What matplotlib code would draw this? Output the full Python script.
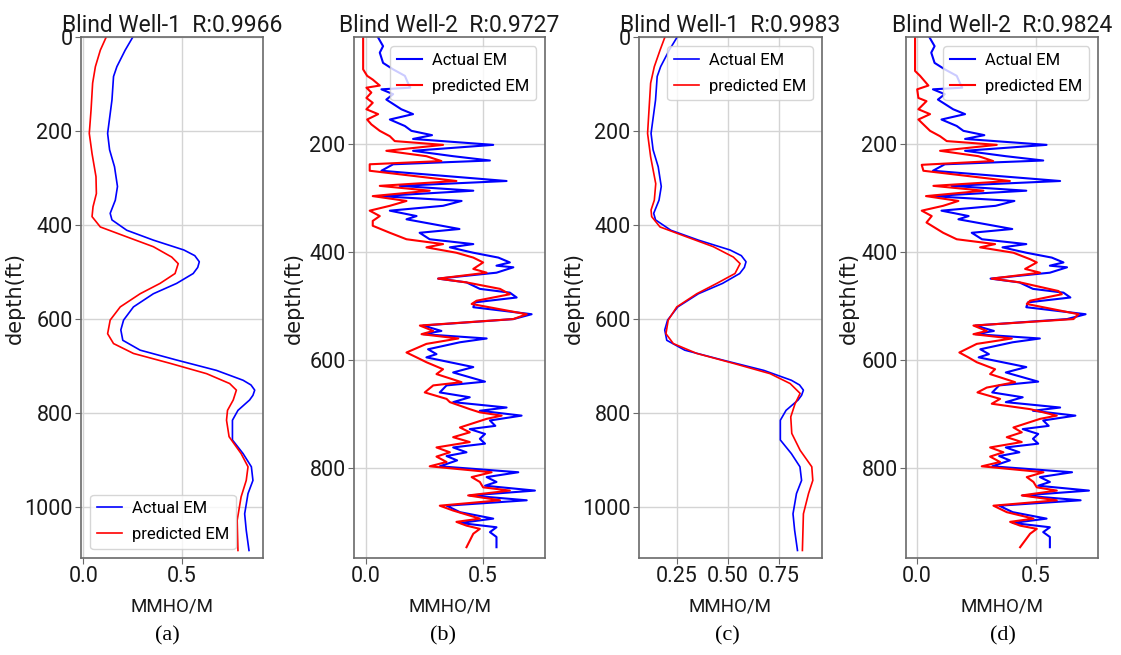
import numpy as np
import matplotlib
matplotlib.use('Agg')
import matplotlib.pyplot as plt

# Blind Well-1: actual EM log (depth ft, MMHO/M)
w1_depth = [0, 28, 63, 84, 134, 205, 240, 276, 318, 347, 375, 389, 411, 432, 453, 465, 478, 490, 503,
            524, 546, 574, 602, 623, 645, 666, 687, 709, 730, 740, 751, 762, 772, 794, 815, 857, 886,
            914, 943, 971, 1014, 1049, 1092]
w1_actual = [0.251, 0.212, 0.170, 0.153, 0.145, 0.123, 0.133, 0.158, 0.173, 0.162, 0.136, 0.145, 0.22,
             0.355, 0.51, 0.565, 0.588, 0.58, 0.557, 0.473, 0.355, 0.254, 0.204, 0.19, 0.2, 0.288, 0.473,
             0.675, 0.81, 0.85, 0.869, 0.86, 0.843, 0.784, 0.756, 0.756, 0.81, 0.852, 0.86, 0.835, 0.818,
             0.826, 0.84]

# Blind Well-1: predicted EM, model (a)
w1a_depth = [0, 28, 63, 98, 155, 205, 248, 297, 333, 361, 382, 404, 425, 446, 468, 482, 503, 524, 546,
             574, 602, 631, 652, 673, 694, 716, 737, 751, 772, 794, 815, 850, 886, 914, 943, 978, 1028, 1092]
w1a_pred = [0.116, 0.086, 0.061, 0.047, 0.039, 0.030, 0.044, 0.064, 0.066, 0.049, 0.044, 0.086, 0.22,
            0.355, 0.448, 0.481, 0.465, 0.389, 0.288, 0.187, 0.136, 0.123, 0.153, 0.254, 0.44, 0.625,
            0.742, 0.776, 0.76, 0.731, 0.726, 0.739, 0.80, 0.835, 0.826, 0.80, 0.78, 0.784]

# Blind Well-1: predicted EM, model (c)
w1c_depth = [0, 28, 63, 98, 155, 205, 255, 312, 347, 368, 382, 404, 425, 446, 468, 482, 503, 524, 546,
             574, 602, 631, 652, 673, 694, 716, 737, 758, 780, 808, 843, 879, 914, 943, 971, 1014, 1092]
w1c_pred = [0.191, 0.167, 0.139, 0.121, 0.113, 0.106, 0.121, 0.146, 0.139, 0.123, 0.126, 0.167, 0.297,
            0.428, 0.526, 0.559, 0.534, 0.445, 0.347, 0.249, 0.207, 0.196, 0.232, 0.347, 0.526, 0.706,
            0.804, 0.853, 0.828, 0.807, 0.812, 0.853, 0.91, 0.915, 0.894, 0.869, 0.864]

# Blind Well-2: actual EM (depth, value)
w2_actual = np.array([
    (2, 0.053), (18, 0.074), (30, 0.06), (49, 0.074), (61, 0.117), (73, 0.167), (86, 0.18), (95, 0.19),
    (98, 0.067), (107, 0.117), (117, 0.088), (135, 0.152), (144, 0.202), (154, 0.103), (166, 0.167),
    (175, 0.195), (183, 0.283), (190, 0.202), (201, 0.544), (212, 0.202), (222, 0.373), (230, 0.53),
    (237, 0.117), (249, 0.067), (268, 0.601), (277, 0.145), (286, 0.459), (296, 0.06), (305, 0.409),
    (314, 0.33), (323, 0.103), (333, 0.217), (339, 0.174), (357, 0.40), (364, 0.23), (376, 0.273),
    (385, 0.459), (391, 0.359), (401, 0.459), (410, 0.566), (419, 0.615), (425, 0.558), (428, 0.63),
    (438, 0.558), (449, 0.309), (456, 0.43), (468, 0.487), (475, 0.615), (484, 0.644), (493, 0.466),
    (502, 0.459), (515, 0.708), (524, 0.63), (536, 0.245), (546, 0.323), (552, 0.245), (560, 0.516),
    (567, 0.402), (580, 0.266), (589, 0.302), (595, 0.259), (613, 0.459), (623, 0.373), (640, 0.509),
    (647, 0.345), (660, 0.316), (669, 0.444), (678, 0.373), (688, 0.601), (694, 0.487), (703, 0.665),
    (712, 0.53), (722, 0.553), (728, 0.444), (737, 0.509), (746, 0.487), (755, 0.509), (762, 0.373),
    (771, 0.43), (778, 0.345), (786, 0.39), (797, 0.316), (808, 0.651), (817, 0.516), (826, 0.558),
    (833, 0.509), (842, 0.722), (851, 0.444), (860, 0.687), (870, 0.345), (882, 0.402), (894, 0.544),
    (902, 0.402), (910, 0.558), (919, 0.53), (928, 0.558), (947, 0.558)])

# Blind Well-2: predicted EM, model (b)
w2b_pred = np.array([
    (3, -0.011), (61, -0.011), (73, 0.006), (80, 0.03), (91, 0.06), (95, 0.003), (104, 0.024),
    (114, 0.003), (123, 0.03), (135, 0.003), (144, 0.053), (154, 0.006), (163, 0.024), (175, 0.06),
    (185, 0.103), (194, 0.124), (201, 0.33), (212, 0.088), (222, 0.259), (231, 0.323), (237, 0.017),
    (249, 0.017), (268, 0.387), (277, 0.06), (286, 0.273), (296, 0.03), (305, 0.174), (314, 0.103),
    (323, 0.017), (333, 0.06), (342, 0.03), (351, 0.03), (364, 0.103), (376, 0.174), (385, 0.33),
    (391, 0.259), (401, 0.387), (410, 0.459), (419, 0.501), (431, 0.459), (438, 0.516), (449, 0.309),
    (456, 0.43), (468, 0.573), (478, 0.615), (490, 0.473), (496, 0.452), (515, 0.687), (524, 0.63),
    (536, 0.231), (546, 0.288), (552, 0.238), (560, 0.395), (570, 0.259), (586, 0.174), (595, 0.217),
    (604, 0.259), (617, 0.33), (626, 0.302), (641, 0.409), (647, 0.288), (660, 0.252), (672, 0.345),
    (678, 0.359), (691, 0.444), (697, 0.487), (703, 0.58), (709, 0.516), (725, 0.402), (734, 0.444),
    (743, 0.373), (752, 0.444), (762, 0.302), (771, 0.359), (779, 0.302), (789, 0.345), (797, 0.273),
    (808, 0.537), (817, 0.452), (826, 0.487), (836, 0.501), (842, 0.615), (851, 0.437), (860, 0.573),
    (870, 0.316), (879, 0.373), (894, 0.487), (900, 0.387), (907, 0.43), (913, 0.487), (922, 0.459),
    (947, 0.43)])

# Blind Well-2: predicted EM, model (d)
w2d_pred = np.array([
    (3, -0.008), (64, -0.008), (73, 0.013), (91, 0.048), (98, 0.001), (114, 0.006), (120, 0.04),
    (135, 0.006), (144, 0.055), (154, 0.006), (175, 0.055), (185, 0.097), (194, 0.125), (201, 0.335),
    (212, 0.097), (222, 0.258), (231, 0.32), (238, 0.02), (249, 0.027), (268, 0.39), (277, 0.069),
    (286, 0.279), (296, 0.038), (305, 0.174), (314, 0.11), (323, 0.02), (333, 0.062), (345, 0.04),
    (364, 0.11), (376, 0.167), (385, 0.328), (391, 0.265), (401, 0.405), (413, 0.475), (419, 0.503),
    (431, 0.454), (438, 0.517), (449, 0.314), (456, 0.433), (472, 0.594), (478, 0.608), (490, 0.475),
    (496, 0.461), (515, 0.678), (524, 0.657), (536, 0.237), (546, 0.293), (552, 0.237), (560, 0.398),
    (570, 0.251), (586, 0.178), (595, 0.216), (604, 0.251), (617, 0.328), (626, 0.307), (641, 0.412),
    (651, 0.293), (660, 0.254), (672, 0.349), (681, 0.314), (691, 0.475), (703, 0.587), (709, 0.517),
    (725, 0.405), (734, 0.44), (743, 0.377), (752, 0.44), (762, 0.307), (771, 0.363), (779, 0.307),
    (789, 0.349), (797, 0.272), (808, 0.531), (817, 0.461), (826, 0.489), (836, 0.503), (842, 0.587),
    (851, 0.44), (860, 0.587), (870, 0.321), (882, 0.377), (894, 0.489), (900, 0.391), (907, 0.433),
    (913, 0.503), (922, 0.475), (947, 0.433)])

titles = ['Blind Well-1  R:0.9966', 'Blind Well-2  R:0.9727',
          'Blind Well-1  R:0.9983', 'Blind Well-2  R:0.9824']
tags = ['(a)', '(b)', '(c)', '(d)']

plt.rcParams['font.family'] = ['Roboto', 'DejaVu Sans']

W, H = 1121, 655
fig = plt.figure(figsize=(W / 100, H / 100), dpi=100)


def track(left, right, actual, pred, title, xlim, xticks, ylim, yticks, loc, lw, ylab_x, tag, tag_x):
    top, bottom = 37, 558
    ax = fig.add_axes([left / W, 1 - bottom / H, (right - left) / W, (bottom - top) / H])
    ax.plot(actual[1], actual[0], color='b', lw=lw, label='Actual EM')
    ax.plot(pred[1], pred[0], color='r', lw=lw, label='predicted EM')
    ax.set_xlim(*xlim)
    ax.set_ylim(*ylim)
    ax.set_xticks(xticks)
    ax.set_yticks(yticks)
    ax.grid(True, color='#d4d4d4', lw=1.0)
    ax.set_axisbelow(True)
    for s in ax.spines.values():
        s.set_color('#6a6a6a')
        s.set_linewidth(1.2)
    ax.tick_params(labelsize=15.5, length=4, color='#6a6a6a', labelcolor='#1a1a1a', pad=2)
    ax.set_title(title, fontsize=16.5, pad=3, color='#1a1a1a')
    ax.set_xlabel('MMHO/M', fontsize=13.5, labelpad=7, color='#1a1a1a')
    ax.set_ylabel('depth(ft)', family='DejaVu Sans', fontsize=15, color='#1a1a1a')
    ax.yaxis.set_label_coords((ylab_x - left) / (right - left), 0.5)
    ax.legend(loc=loc, fontsize=12, handlelength=1.5, handletextpad=0.6,
              labelspacing=0.65, borderaxespad=0.55)
    fig.text(tag_x / W, 1 - 636 / H, tag, family='Liberation Serif', fontsize=16,
             ha='center', va='center', color='black')
    return ax


well1_act = (w1_depth, w1_actual)
track(81, 263, well1_act, (w1a_depth, w1a_pred), titles[0], (-0.012, 0.911), [0.0, 0.5],
      (1108, 0), [0, 200, 400, 600, 800, 1000], 'lower left', 1.2, 25, tags[0], 167)
track(354, 545, w2_actual.T, w2b_pred.T, titles[1], (-0.05, 0.765), [0.0, 0.5],
      (967, 1), [200, 400, 600, 800], 'upper right', 1.5, 304, tags[1], 443)
track(639, 822, well1_act, (w1c_depth, w1c_pred), titles[2], (0.064, 0.96), [0.25, 0.5, 0.75],
      (1108, 0), [0, 200, 400, 600, 800, 1000], 'upper right', 1.2, 584, tags[2], 727)
track(906, 1098, w2_actual.T, w2d_pred.T, titles[3], (-0.046, 0.76), [0.0, 0.5],
      (967, 1), [200, 400, 600, 800], 'upper right', 1.5, 859, tags[3], 1003)

fig.savefig('out.png', dpi=100)
